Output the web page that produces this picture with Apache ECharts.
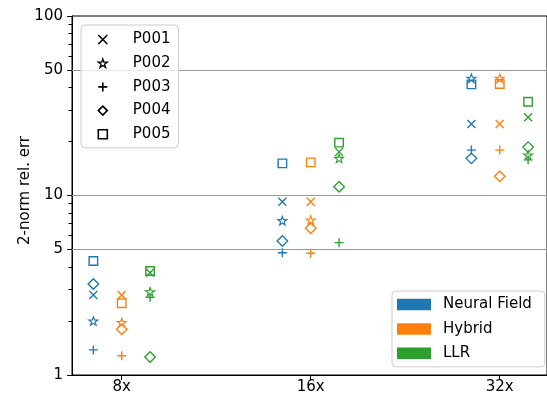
<!DOCTYPE html>
<html>
<head>
<meta charset="utf-8">
<title>2-norm relative error</title>
<script src="https://cdn.jsdelivr.net/npm/echarts@6/dist/echarts.min.js"></script>
<style>
  html, body { margin: 0; padding: 0; background: #fff; }
  #chart { width: 547px; height: 398px; }
</style>
</head>
<body>
<div id="chart"></div>
<script>
// Acceleration factors along the x axis
const categories = ['8x', '16x', '32x'];
const patients = ['P001', 'P002', 'P003', 'P004', 'P005'];
const methods = ['Neural Field', 'Hybrid', 'LLR'];

// Errors: one row per patient, one column per acceleration factor
const neuralField = [
  [2.79, 9.24, 25.0],
  [2.00, 7.24, 45.0],
  [1.38, 4.80, 17.9],
  [3.21, 5.58, 16.1],
  [4.32, 15.1, 41.6]
];
const hybrid = [
  [2.79, 9.24, 25.0],
  [1.96, 7.30, 45.0],
  [1.28, 4.77, 17.9],
  [1.80, 6.56, 12.8],
  [2.51, 15.3, 41.8]
];
const llr = [
  [3.71, 17.5, 27.3],
  [2.91, 16.1, 16.8],
  [2.71, 5.46, 15.8],
  [1.26, 11.2, 18.6],
  [3.80, 19.7, 33.3]
];

// Axis ticks
const yMajorTicks = [1, 5, 10, 50, 100];
const yMinorTicks = [2, 3, 4, 6, 7, 8, 9, 20, 30, 40, 60, 70, 80, 90];
const yGridValues = [5, 10, 50];

const methodValues = [neuralField, hybrid, llr];
const methodColors = ['#1f77b4', '#ff7f0e', '#2ca02c'];
const methodOffsets = [-0.15, 0, 0.15];

// Hollow / stroked marker shapes, one per patient
const starPath = 'path://M5,0L6.123,3.455L9.755,3.455L6.816,5.59L7.939,9.045L5,6.91L2.061,9.045L3.184,5.59L0.245,3.455L3.877,3.455Z';
const patientSymbols = [
  { icon: 'path://M0,0L10,10M10,0L0,10', size: 8, stroke: 1.4 },
  { icon: starPath, size: 9, stroke: 1.1 },
  { icon: 'path://M5,0L5,10M0,5L10,5', size: 9, stroke: 1.4 },
  { icon: 'path://M5,0L10,5L5,10L0,5Z', size: 10.5, stroke: 1.4 },
  { icon: 'path://M0,0L10,0L10,10L0,10Z', size: 8.5, stroke: 1.4 }
];

const FONT = 'DejaVu Sans';
const series = [];

// Horizontal grid lines
series.push({
  type: 'line',
  name: '_grid',
  data: [],
  silent: true,
  z: 1,
  markLine: {
    silent: true,
    symbol: 'none',
    animation: false,
    label: { show: false },
    lineStyle: { color: '#9a9a9a', width: 1, type: 'solid' },
    emphasis: { disabled: true },
    data: yGridValues.map(v => ({ yAxis: v }))
  }
});

methods.forEach((m, mi) => {
  patients.forEach((p, pi) => {
    series.push({
      type: 'scatter',
      name: p,
      // both y axes share the same log scale; the first method sits on the
      // minor-tick axis so that axis is populated
      yAxisIndex: mi === 0 ? 1 : 0,
      z: 3 + mi,
      symbol: patientSymbols[pi].icon,
      symbolSize: patientSymbols[pi].size,
      symbolKeepAspect: true,
      itemStyle: {
        color: 'transparent',
        borderColor: methodColors[mi],
        borderWidth: patientSymbols[pi].stroke,
        opacity: 1
      },
      emphasis: { disabled: true },
      data: methodValues[mi][pi].map((v, ci) => [ci + methodOffsets[mi], v])
    });
  });
  // Entry for the colour legend
  series.push({
    type: 'scatter',
    name: m,
    data: [],
    itemStyle: { color: methodColors[mi], opacity: 1 }
  });
});

const chart = echarts.init(document.getElementById('chart'), null, { renderer: 'canvas' });

chart.setOption({
  animation: false,
  backgroundColor: '#fff',
  textStyle: { fontFamily: FONT },
  grid: {
    left: 72, top: 16, right: -3, bottom: 23,
    show: true, borderColor: '#000', borderWidth: 1,
    backgroundColor: 'transparent'
  },
  xAxis: {
    type: 'value',
    min: -0.263,
    max: 2.25,
    splitLine: { show: false },
    axisLine: { show: true, onZero: false, lineStyle: { color: '#000', width: 1 } },
    axisTick: { show: true, customValues: [0, 1, 2], length: 5, lineStyle: { color: '#000' } },
    axisLabel: {
      customValues: [0, 1, 2],
      formatter: v => categories[Math.round(v)],
      color: '#000', fontSize: 15, fontFamily: FONT, margin: 5
    }
  },
  yAxis: [
    {
      type: 'log',
      logBase: 10,
      min: 1,
      max: 100,
      name: '2-norm rel. err',
      nameLocation: 'middle',
      nameGap: 39,
      nameMoveOverlap: false,
      nameTextStyle: { color: '#000', fontSize: 15, fontFamily: FONT, padding: [0, 0, 0, 10] },
      splitLine: { show: false },
      axisLine: { show: true, onZero: false, lineStyle: { color: '#000', width: 1 } },
      axisTick: { show: true, customValues: yMajorTicks, length: 5, lineStyle: { color: '#000', width: 1 } },
      axisLabel: {
        customValues: yMajorTicks,
        color: '#000', fontSize: 15, fontFamily: FONT, margin: 9
      }
    },
    {
      type: 'log',
      logBase: 10,
      min: 1,
      max: 100,
      position: 'left',
      offset: 0,
      splitLine: { show: false },
      axisLine: { show: false, onZero: false },
      axisTick: { show: true, customValues: yMinorTicks, length: 3.5, lineStyle: { color: '#000', width: 1 } },
      axisLabel: { show: false }
    }
  ],
  legend: [
    {
      orient: 'vertical',
      left: 81,
      top: 25,
      padding: [7, 8, 6, 16.5],
      itemWidth: 9,
      itemHeight: 14,
      itemGap: 8.7,
      selectedMode: false,
      backgroundColor: 'rgba(255,255,255,0.8)',
      borderColor: '#cccccc',
      borderWidth: 1,
      borderRadius: 4,
      textStyle: { color: '#000', fontSize: 15, fontFamily: FONT, lineHeight: 14, padding: [0, 0, 0, 20.5] },
      data: patients.map((p, pi) => ({
        name: p,
        icon: patientSymbols[pi].icon,
        itemStyle: { color: 'transparent', borderColor: '#000', borderWidth: patientSymbols[pi].stroke + 0.2, opacity: 1 }
      })),
      z: 10
    },
    {
      orient: 'vertical',
      left: 392,
      top: 291,
      padding: [6, 13, 6, 5],
      itemWidth: 34,
      itemHeight: 11.5,
      itemGap: 9.4,
      selectedMode: false,
      backgroundColor: 'rgba(255,255,255,0.8)',
      borderColor: '#cccccc',
      borderWidth: 1,
      borderRadius: 4,
      textStyle: { color: '#000', fontSize: 15, fontFamily: FONT, lineHeight: 14, padding: [0, 0, 0, 7] },
      data: methods.map((m, mi) => ({
        name: m,
        icon: 'rect',
        itemStyle: { color: methodColors[mi], borderWidth: 0, opacity: 1 }
      })),
      z: 10
    }
  ],
  series: series
});
</script>
</body>
</html>
